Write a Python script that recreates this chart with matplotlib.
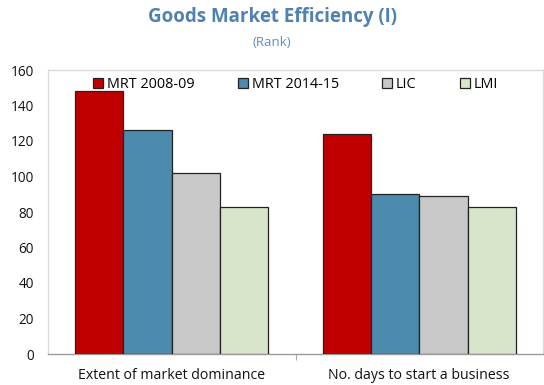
import numpy as np
import matplotlib
matplotlib.use("Agg")
import matplotlib.pyplot as plt

plt.rcParams['font.family'] = ['Open Sans', 'DejaVu Sans']

categories = ["Extent of market dominance", "No. days to start a business"]
series_names = ["MRT 2008-09", "MRT 2014-15", "LIC", "LMI"]
mrt_2008 = [148, 124]
mrt_2014 = [126, 90]
lic = [102, 89]
lmi = [83, 83]
y_ticks = [0, 20, 40, 60, 80, 100, 120, 140, 160]

colors = ["#c00000", "#4a8bae", "#c8c8c8", "#d9e5cb"]
values = [mrt_2008, mrt_2014, lic, lmi]

fig = plt.figure(figsize=(5.44, 3.85), dpi=100)
ax = fig.add_axes([48 / 544, 1 - 354 / 385, 495 / 544, 284 / 385])

x = np.arange(len(categories))
width = 0.195
offsets = (np.arange(len(values)) - 1.5) * width
for vals, off, col, name in zip(values, offsets, colors, series_names):
    ax.bar(x + off, vals, width, color=col, edgecolor="#222222",
           linewidth=0.9, label=name, zorder=3)

ax.set_xlim(-0.5, len(categories) - 0.5)
ax.set_ylim(0, 160)
ax.set_yticks(y_ticks)
ax.set_xticks(x)
ax.set_xticklabels(categories, fontsize=10.2, color="#111111")
ax.tick_params(axis="x", length=0, pad=10)
ax.tick_params(axis="y", length=0, pad=10, labelsize=9.8, labelcolor="#111111")

# category separator tick on the bottom axis
ax.set_xticks([0.5], minor=True)
ax.tick_params(axis="x", which="minor", length=4, color="#aaaaaa", width=0.8)

for side in ["top", "right", "left"]:
    ax.spines[side].set_color("#d9d9d9")
    ax.spines[side].set_linewidth(0.9)
ax.spines["bottom"].set_color("#9a9a9a")
ax.spines["bottom"].set_linewidth(1.0)

leg = ax.legend(loc="upper center", ncol=4, frameon=False, fontsize=10.4,
                handlelength=0.7, handleheight=0.7, handletextpad=0.25,
                columnspacing=3.0, bbox_to_anchor=(0.5, 1.02))

fig.text(0.5, 1 - 17 / 385, "Goods Market Efficiency (I)", ha="center",
         va="center", fontsize=13.5, fontweight="bold", color="#4f81b3")
fig.text(0.5, 1 - 43 / 385, "(Rank)", ha="center", va="center",
         fontsize=9.5, color="#5d8fc0")

fig.savefig("out.png", dpi=100)
